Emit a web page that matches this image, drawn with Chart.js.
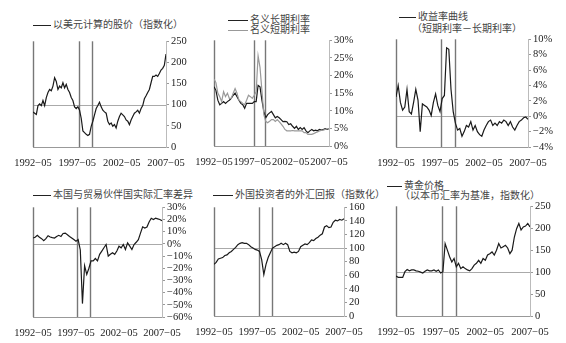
<!DOCTYPE html>
<html lang="zh">
<head>
<meta charset="UTF-8">
<title>危机前后的市场指标</title>
<script src="https://cdn.jsdelivr.net/npm/chart.js"></script>
<style>
  body { margin:0; width:566px; height:343px; background:#fff; position:relative; overflow:hidden;
         font-family:"Noto Sans CJK SC", sans-serif; color:#444; }
  canvas { position:absolute; }
  .key { position:absolute; font-size:10px; line-height:10px; white-space:nowrap; }
  .key i { display:inline-block; border-top:1px solid #222; vertical-align:middle; margin-right:2px; }
  .preload { position:absolute; left:-100px; top:-100px; font-family:"Liberation Serif"; }
</style>
</head>
<body>
  <span class="preload">0</span>
  <div class="key" style="left:33px;top:19px"><i style="width:18px"></i>以美元计算的股价（指数化）</div>
  <div class="key" style="left:228px;top:14px"><i style="width:20px"></i>名义长期利率</div>
  <div class="key" style="left:228px;top:24px"><i style="width:20px;border-color:#999"></i>名义短期利率</div>
  <div class="key" style="left:399px;top:11px"><i style="width:17px"></i>收益率曲线</div>
  <div class="key" style="left:412px;top:23px">（短期利率－长期利率）</div>
  <div class="key" style="left:33px;top:189px"><i style="width:18px"></i>本国与贸易伙伴国实际汇率差异</div>
  <div class="key" style="left:213px;top:189px"><i style="width:20px"></i>外国投资者的外汇回报（指数化）</div>
  <div class="key" style="left:387px;top:180px"><i style="width:15px"></i>黄金价格</div>
  <div class="key" style="left:400px;top:190px">（以本币汇率为基准，指数化）</div>

  <canvas id="stock"></canvas>
  <canvas id="rates"></canvas>
  <canvas id="curve"></canvas>
  <canvas id="reer"></canvas>
  <canvas id="fxret"></canvas>
  <canvas id="gold"></canvas>

<script>
// months counted from 1992-05 (0) to 2007-05 (180)
const xLabels = ['1992−05', '1997−05', '2002−05', '2007−05'];
const crisisMonths = [62, 80];

const stockUsd = [83,80,77,98,102,98,110,98,117,129,136,133,144,164,155,136,144,140,152,140,
  148,136,129,117,110,95,91,95,87,68,38,34,30,27,30,49,61,76,91,98,
  106,95,87,83,80,61,53,57,49,53,45,61,72,80,76,72,64,61,53,64,
  72,80,83,87,80,91,98,114,121,129,136,152,167,167,170,167,174,182,186,193,220];

const longRate = [16.8,15.8,13,11.7,12.1,12.6,12.1,12.6,13,13.5,14.4,15,14,13,12.1,11.7,10.7,12.1,12.1,12.1,
  12.1,12.6,12.6,17.2,16.8,13,9.8,8,8.9,9.4,9.8,8.9,8,8.4,8,7.5,6.9,7,6.9,6.1,
  6.3,5.6,5,5.6,4.7,5.2,4.7,5.2,4.3,3.8,4.3,4.7,4.3,4.5,4.3,4.7,4.5,4.7,4.9,4.7,4.9];
const shortRate = [19,18,15,14,12.6,15.4,14,15,13.5,13.5,15,16.3,15,13,12.6,12.1,11.7,13,14.4,14,
  13.5,14.4,15.4,25.6,22.3,15.8,8.9,7,6.6,7,7.5,7.5,7,7.5,6.9,6.3,5.6,4.7,4.3,4.3,
  4.3,4.4,4.3,4.3,4.3,4.3,4.3,3.8,3.8,3.3,3.3,3.3,3.5,3.8,4,4.3,4.4,4.5,4.7,4.9,4.9];

const yieldSpread = [2.5,4.0,1.8,0.8,1.2,3.5,0.6,0.3,1.8,3.5,2.1,-2.0,1.6,1.4,1.2,0.8,0.1,1.8,2.9,1.4,
  0.6,2.3,2.7,8.9,8.7,3.5,0.6,-0.9,-1.8,-1.6,-2.6,-2.0,-1.2,-1.4,-0.7,-1.8,-1.2,-2.0,-2.4,-2.6,
  -1.8,-1.2,-0.7,-0.5,-1.2,-0.9,-1.2,-0.7,-0.9,-0.5,-0.7,-1.2,-0.7,-1.4,-1.8,-1.2,-0.7,-0.5,-0.2,-0.1,-0.4];

const realFxGap = [4.8,5.4,7,5.4,4.3,2.7,4.3,6.7,5.6,5.1,4.8,6.1,7,6.1,8.5,8.8,7.5,6.1,4.8,3.5,
  2.1,3.5,-5,-49,-18,-25,-20,-14,-14,-12,-14,-8.6,-5.9,-3.2,-0.5,-10,-8.6,-7.3,-8.6,-5.9,
  -1.9,-3.2,-0.5,-4.6,0.8,-1.9,-4.6,-0.5,1.3,3.5,8.8,14,13,13.8,18,21,20,21,20.5,20,19];

const fxReturn = [76,79,84,85,86,89,90,93,95,98,101,105,107,108,107,107,105,102,100,98,
  97,95,83,61,76,86,93,100,102,104,105,107,105,107,105,95,93,94,93,95,
  102,104,106,105,108,112,111,114,116,119,121,131,133,130,131,138,141,140,142,141,143];

const goldLocal = [91,88,88,88,101,106,103,105,105,103,102,100,98,102,105,103,103,105,102,105,
  98,101,165,150,135,123,131,112,120,108,112,108,105,103,108,116,120,127,120,131,
  127,139,142,146,139,150,165,155,158,161,155,142,150,180,199,211,196,203,205,211,203];

// shared drawing of the baseline level, the left edge and the two crisis dates
const refLines = {
  id: 'refLines',
  beforeDatasetsDraw(chart, args, opts) {
    const { ctx, chartArea: a, scales: { x, y } } = chart;
    ctx.save();
    if (opts.base !== null && opts.base !== undefined) {
      const yb = Math.round(y.getPixelForValue(opts.base)) + 0.5;
      ctx.strokeStyle = '#aaa';
      ctx.lineWidth = 1;
      ctx.beginPath(); ctx.moveTo(a.left, yb); ctx.lineTo(a.right, yb); ctx.stroke();
    }
    ctx.strokeStyle = '#777';
    ctx.lineWidth = 1.4;
    [0, ...crisisMonths].forEach(m => {
      const px = Math.round(x.getPixelForValue(m)) + 0.5;
      ctx.beginPath(); ctx.moveTo(px, a.top); ctx.lineTo(px, a.bottom); ctx.stroke();
    });
    ctx.restore();
  }
};

const toPoints = vals => vals.map((v, i) => ({ x: i * 180 / (vals.length - 1), y: v }));
const pct = v => (v < 0 ? '−' + Math.abs(v) : v) + '%';
const numFont = "'Liberation Serif', 'DejaVu Serif', serif";

const padL = 24, padT = 6, axisW = 38, axisH = 20;

function makePanel(id, box, series, yOpt, base) {
  const cv = document.getElementById(id);
  cv.width = box.r - box.l + padL + axisW;
  cv.height = box.b - box.t + padT + axisH;
  cv.style.left = (box.l - padL) + 'px';
  cv.style.top = (box.t - padT) + 'px';

  new Chart(cv, {
    type: 'line',
    data: {
      datasets: series.map(s => ({
        data: toPoints(s.values),
        borderColor: s.color,
        borderWidth: 1.2,
        pointRadius: 0,
        tension: 0
      }))
    },
    options: {
      responsive: false,
      animation: false,
      events: [],
      layout: { padding: { left: padL, top: padT, right: 0, bottom: 0 } },
      plugins: { legend: { display: false }, tooltip: { enabled: false }, refLines: { base } },
      scales: {
        x: {
          type: 'linear', min: 0, max: 180,
          afterBuildTicks: s => { s.ticks = [0, 60, 120, 180].map(v => ({ value: v })); },
          afterFit: s => { s.height = axisH; },
          grid: { display: false },
          border: { display: true, color: '#999', width: 1 },
          ticks: {
            maxRotation: 0, autoSkip: false, padding: 2, color: '#222',
            font: { family: numFont, size: 10.5 },
            callback: v => xLabels[v / 60]
          }
        },
        y: {
          position: 'right',
          min: yOpt.min, max: yOpt.max,
          afterFit: s => { s.width = axisW; },
          grid: { drawOnChartArea: false, drawTicks: true, tickLength: 3, color: '#999' },
          border: { display: true, color: '#bbb', width: 1 },
          ticks: {
            stepSize: yOpt.step, autoSkip: false, padding: 2, color: '#222',
            font: { family: numFont, size: 10.5 },
            callback: yOpt.fmt || (v => v)
          }
        }
      }
    },
    plugins: [refLines]
  });
}

makePanel('stock', { l: 33, r: 166, t: 39, b: 147 },
  [{ values: stockUsd, color: '#1a1a1a' }],
  { min: 0, max: 250, step: 50 }, 100);

makePanel('rates', { l: 214, r: 329, t: 38, b: 146 },
  [{ values: shortRate, color: '#999' }, { values: longRate, color: '#1a1a1a' }],
  { min: 0, max: 30, step: 5, fmt: pct }, null);

makePanel('curve', { l: 396, r: 528, t: 37, b: 147 },
  [{ values: yieldSpread, color: '#1a1a1a' }],
  { min: -4, max: 10, step: 2, fmt: pct }, 0);

makePanel('reer', { l: 33, r: 162, t: 205, b: 317 },
  [{ values: realFxGap, color: '#1a1a1a' }],
  { min: -60, max: 30, step: 10, fmt: pct }, 0);

makePanel('fxret', { l: 214, r: 344, t: 205, b: 316 },
  [{ values: fxReturn, color: '#1a1a1a' }],
  { min: 0, max: 160, step: 20 }, 100);

makePanel('gold', { l: 396, r: 530, t: 204, b: 316 },
  [{ values: goldLocal, color: '#1a1a1a' }],
  { min: 0, max: 250, step: 50 }, 100);
</script>
</body>
</html>
